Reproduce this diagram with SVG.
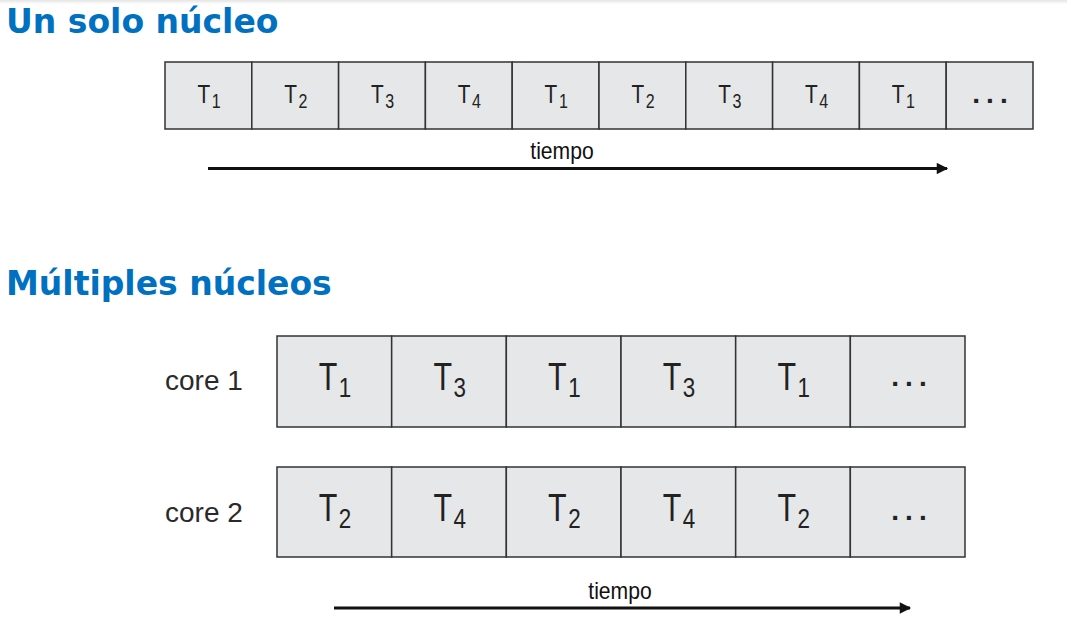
<svg xmlns="http://www.w3.org/2000/svg" width="1067" height="636" viewBox="0 0 1067 636">
<style>
.title{font-family:"DejaVu Sans",Verdana,sans-serif;font-weight:bold;font-size:33px;fill:#0070c0}
.cell{fill:#e6e7e9;stroke:#333;stroke-width:1.5}
.ts{font-family:"Liberation Sans",Arial,sans-serif;font-size:26px;fill:#222;text-anchor:middle}
.ts .s{font-size:20px}
.tb{font-family:"Liberation Sans",Arial,sans-serif;font-size:38px;fill:#222;text-anchor:middle}
.tb .s{font-size:28px}
.dots{font-family:"Liberation Sans",Arial,sans-serif;font-weight:bold;font-size:28px;fill:#222;text-anchor:middle;letter-spacing:6px}
.lbl{font-family:"Liberation Sans",Arial,sans-serif;font-size:28px;fill:#2a2a2a}
.tm{font-family:"Liberation Sans",Arial,sans-serif;font-size:23px;fill:#111;text-anchor:middle}
.arr{stroke:#111;stroke-width:3;fill:none}
</style>
<defs>
<linearGradient id="sh" x1="0" y1="0" x2="0" y2="1"><stop offset="0" stop-color="#e4e4e4"/><stop offset="1" stop-color="#fff"/></linearGradient>
<marker id="ah" viewBox="0 0 10 10" refX="9" refY="5" markerWidth="5" markerHeight="3.8" orient="auto" markerUnits="strokeWidth"><path d="M0,0 L10,5 L0,10 z" fill="#111"/></marker>
</defs>
<rect x="0" y="0" width="1067" height="636" fill="#fff"/>
<rect x="0" y="0" width="1067" height="4" fill="url(#sh)"/>

<text class="title" x="6" y="33">Un solo núcleo</text>
<text class="title" x="6" y="295">Múltiples núcleos</text>

<g id="single">
<rect class="cell" x="165" y="62" width="86.8" height="67"/>
<rect class="cell" x="251.8" y="62" width="86.8" height="67"/>
<rect class="cell" x="338.6" y="62" width="86.8" height="67"/>
<rect class="cell" x="425.4" y="62" width="86.8" height="67"/>
<rect class="cell" x="512.2" y="62" width="86.8" height="67"/>
<rect class="cell" x="599" y="62" width="86.8" height="67"/>
<rect class="cell" x="685.8" y="62" width="86.8" height="67"/>
<rect class="cell" x="772.6" y="62" width="86.8" height="67"/>
<rect class="cell" x="859.4" y="62" width="86.8" height="67"/>
<rect class="cell" x="946.2" y="62" width="86.8" height="67"/>
<text class="ts" transform="translate(209,103) scale(0.8,1)">T<tspan class="s" dx="2" dy="5">1</tspan></text>
<text class="ts" transform="translate(295.8,103) scale(0.8,1)">T<tspan class="s" dx="2" dy="5">2</tspan></text>
<text class="ts" transform="translate(382.6,103) scale(0.8,1)">T<tspan class="s" dx="2" dy="5">3</tspan></text>
<text class="ts" transform="translate(469.4,103) scale(0.8,1)">T<tspan class="s" dx="2" dy="5">4</tspan></text>
<text class="ts" transform="translate(556.2,103) scale(0.8,1)">T<tspan class="s" dx="2" dy="5">1</tspan></text>
<text class="ts" transform="translate(643,103) scale(0.8,1)">T<tspan class="s" dx="2" dy="5">2</tspan></text>
<text class="ts" transform="translate(729.8,103) scale(0.8,1)">T<tspan class="s" dx="2" dy="5">3</tspan></text>
<text class="ts" transform="translate(816.6,103) scale(0.8,1)">T<tspan class="s" dx="2" dy="5">4</tspan></text>
<text class="ts" transform="translate(903.4,103) scale(0.8,1)">T<tspan class="s" dx="2" dy="5">1</tspan></text>
<text class="dots" x="993" y="103">...</text>
</g>

<g id="core1">
<text class="lbl" x="165" y="390">core 1</text>
<rect class="cell" x="277" y="336" width="114.67" height="91"/>
<rect class="cell" x="391.67" y="336" width="114.67" height="91"/>
<rect class="cell" x="506.33" y="336" width="114.67" height="91"/>
<rect class="cell" x="621" y="336" width="114.67" height="91"/>
<rect class="cell" x="735.67" y="336" width="114.67" height="91"/>
<rect class="cell" x="850.33" y="336" width="114.67" height="91"/>
<text class="tb" transform="translate(335,390) scale(0.8,1)">T<tspan class="s" dx="2" dy="7">1</tspan></text>
<text class="tb" transform="translate(449.7,390) scale(0.8,1)">T<tspan class="s" dx="2" dy="7">3</tspan></text>
<text class="tb" transform="translate(564.3,390) scale(0.8,1)">T<tspan class="s" dx="2" dy="7">1</tspan></text>
<text class="tb" transform="translate(679,390) scale(0.8,1)">T<tspan class="s" dx="2" dy="7">3</tspan></text>
<text class="tb" transform="translate(793.7,390) scale(0.8,1)">T<tspan class="s" dx="2" dy="7">1</tspan></text>
<text class="dots" x="912" y="386">...</text>
</g>

<g id="core2">
<text class="lbl" x="165" y="522">core 2</text>
<rect class="cell" x="277" y="467" width="114.67" height="90"/>
<rect class="cell" x="391.67" y="467" width="114.67" height="90"/>
<rect class="cell" x="506.33" y="467" width="114.67" height="90"/>
<rect class="cell" x="621" y="467" width="114.67" height="90"/>
<rect class="cell" x="735.67" y="467" width="114.67" height="90"/>
<rect class="cell" x="850.33" y="467" width="114.67" height="90"/>
<text class="tb" transform="translate(335,521) scale(0.8,1)">T<tspan class="s" dx="2" dy="7">2</tspan></text>
<text class="tb" transform="translate(449.7,521) scale(0.8,1)">T<tspan class="s" dx="2" dy="7">4</tspan></text>
<text class="tb" transform="translate(564.3,521) scale(0.8,1)">T<tspan class="s" dx="2" dy="7">2</tspan></text>
<text class="tb" transform="translate(679,521) scale(0.8,1)">T<tspan class="s" dx="2" dy="7">4</tspan></text>
<text class="tb" transform="translate(793.7,521) scale(0.8,1)">T<tspan class="s" dx="2" dy="7">2</tspan></text>
<text class="dots" x="912" y="520">...</text>
</g>

<g id="connectors">
<text class="tm" transform="translate(562,159) scale(0.92,1)">tiempo</text>
<line class="arr" x1="208" y1="168.5" x2="947" y2="168.5" marker-end="url(#ah)"/>
<text class="tm" transform="translate(620,599) scale(0.92,1)">tiempo</text>
<line class="arr" x1="334" y1="608" x2="910" y2="608" marker-end="url(#ah)"/>
</g>
</svg>
